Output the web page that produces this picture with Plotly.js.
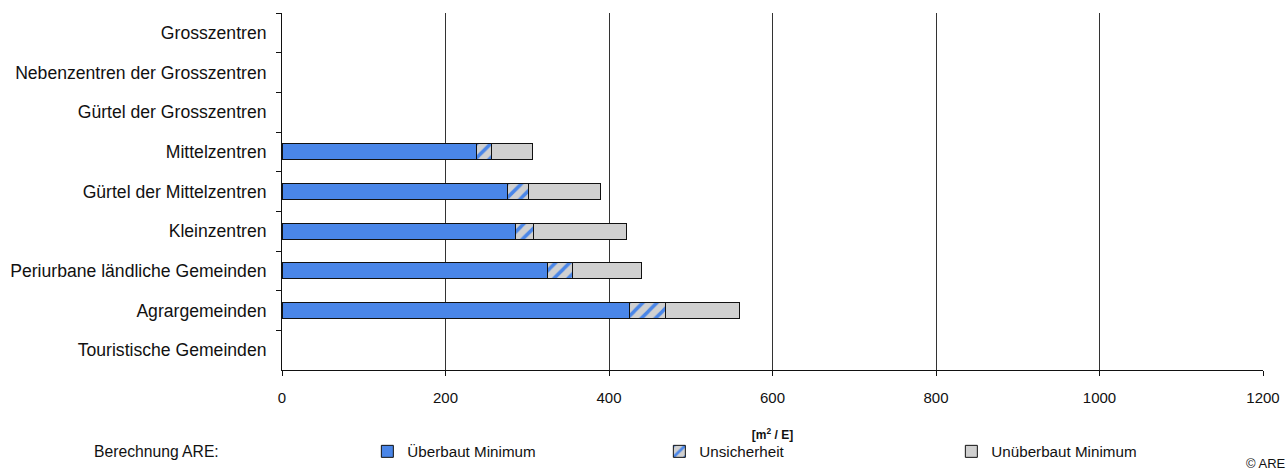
<!DOCTYPE html>
<html>
<head>
<meta charset="utf-8">
<script src="https://cdn.plot.ly/plotly-3.0.1.min.js"></script>
<style>html,body{margin:0;padding:0;background:#fff;}#chart{width:1286px;height:471px;}</style>
</head>
<body>
<div id="chart"></div>
<script>
const categories = [
  "Grosszentren",
  "Nebenzentren der Grosszentren",
  "Gürtel der Grosszentren",
  "Mittelzentren",
  "Gürtel der Mittelzentren",
  "Kleinzentren",
  "Periurbane ländliche Gemeinden",
  "Agrargemeinden",
  "Touristische Gemeinden"
];
const ueberbautMinimum = [null, null, null, 238, 276, 286, 325, 425, null];
const unsicherheit     = [null, null, null, 18, 25, 22, 30, 44, null];
const unueberbautMin   = [null, null, null, 50, 88, 113, 85, 91, null];
const seriesNames = ["Überbaut Minimum", "Unsicherheit", "Unüberbaut Minimum"];
const xTicks = [0, 200, 400, 600, 800, 1000, 1200];

const FONT = "Liberation Sans, Arial, sans-serif";
const line = {color: "#111", width: 1};
const common = {type: "bar", orientation: "h", y: categories, width: 0.4, hoverinfo: "x+name"};

const data = [
  Object.assign({}, common, {
    name: seriesNames[0], x: ueberbautMinimum,
    marker: {color: "#4a86e8", line: line}
  }),
  Object.assign({}, common, {
    name: seriesNames[1], x: unsicherheit,
    marker: {color: "#d0d0d0", line: line,
      pattern: {shape: "/", bgcolor: "#d0d0d0", fgcolor: "#4a86e8", size: 10, solidity: 0.35}}
  }),
  Object.assign({}, common, {
    name: seriesNames[2], x: unueberbautMin,
    marker: {color: "#d0d0d0", line: line}
  })
];

const layout = {
  width: 1286, height: 471,
  margin: {l: 282, r: 23, t: 13, b: 101, autoexpand: false},
  paper_bgcolor: "#fff", plot_bgcolor: "#fff",
  barmode: "stack",
  font: {family: FONT, color: "#111", size: 15},
  showlegend: true,
  legend: {
    orientation: "h", x: 0.087, xanchor: "left", y: -0.182, yanchor: "top",
    entrywidth: 247, entrywidthmode: "pixels",
    font: {family: FONT, size: 15.2, color: "#111"},
    traceorder: "normal", itemclick: false
  },
  xaxis: {
    range: [0, 1200], tickvals: xTicks, ticktext: xTicks.map(String),
    showgrid: true, gridcolor: "#333", gridwidth: 1,
    zeroline: false, showline: true, linecolor: "#111", linewidth: 1,
    ticks: "outside", ticklen: 5, tickcolor: "#111",
    ticklabelstandoff: 9, automargin: false,
    tickfont: {family: FONT, size: 15, color: "#111"},
    title: {text: "<b>[m<sup>2</sup> / E]</b>", font: {family: FONT, size: 12, color: "#111"}, standoff: 25},
    fixedrange: true
  },
  yaxis: {
    type: "category", categoryorder: "array", categoryarray: categories,
    range: [categories.length - 0.5, -0.5],
    showgrid: false, zeroline: false, showline: true, linecolor: "#111", linewidth: 1,
    ticks: "outside", ticklen: 5, tickcolor: "#111", tickson: "boundaries",
    ticklabelstandoff: 11, automargin: false,
    tickfont: {family: FONT, size: 17.6, color: "#111"},
    fixedrange: true
  },
  annotations: [
    {text: "Berechnung ARE:", xref: "paper", yref: "paper", x: -0.1284, y: -0.227,
     xanchor: "center", yanchor: "middle", showarrow: false,
     font: {family: FONT, size: 15.7, color: "#111"}},
    {text: "© ARE", xref: "paper", yref: "paper", x: 0.981, y: -0.262,
     xanchor: "left", yanchor: "middle", showarrow: false,
     font: {family: FONT, size: 13, color: "#111"}}
  ]
};

Plotly.newPlot("chart", data, layout, {displayModeBar: false});
</script>
</body>
</html>
